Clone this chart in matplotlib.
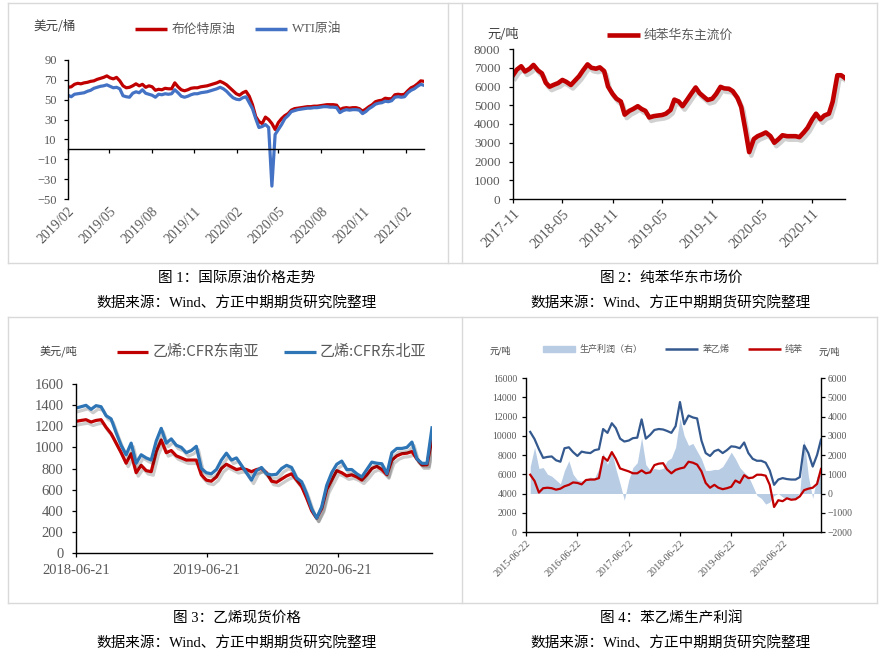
import numpy as np
import pandas as pd
import matplotlib
matplotlib.use('Agg')
import matplotlib.pyplot as plt
from matplotlib.lines import Line2D
from matplotlib.patches import Rectangle
import matplotlib.patheffects as pe

W, H = 884, 656
SERIF = ['Liberation Serif', 'Noto Sans CJK SC']
CJK = ['Noto Sans CJK SC', 'Liberation Serif']
plt.rcParams['font.family'] = SERIF

# ---------------- data ----------------
# Fig 1: crude oil, weekly from 2019-02-01 (USD/bbl)
oil_start = '2019-02-01'
brent = [62.5, 63, 65.5, 66.5, 66, 67, 67.5, 68.5, 69, 70.5, 71.5, 72.5, 74, 72, 71, 72.5, 69, 64, 62, 62.5,
         64, 66, 64, 65.5, 62.5, 64, 63, 59.5, 60.5, 60, 61.5, 61, 61, 67, 63, 60, 59, 60, 61.5, 62,
         62, 63, 63.5, 64, 65, 66, 67, 68.5, 67, 65, 62, 59, 56, 54.5, 57, 58.5, 53.5, 45, 33, 28,
         26, 32.5, 30, 26, 20, 27, 31, 34, 36, 39.5, 41, 41.5, 42, 42.5, 43, 43, 43.5, 43.5, 44, 44.5,
         45, 45, 45, 44.5, 40, 41.5, 42, 41.5, 42, 42, 41, 38.5, 40.5, 43, 45, 48, 49, 49.5, 51.5, 51,
         51, 55, 55.5, 55, 55.5, 59, 62, 63.5, 66, 69, 68.5]
wti = [54.5, 53, 55.5, 56, 56.5, 57, 58.5, 59.5, 61.5, 62.5, 63.5, 64, 65, 63.5, 62, 62.5, 61, 54, 53, 52.5,
       56.5, 58, 57, 60, 56.5, 55.5, 54.5, 52.5, 55.5, 55, 56, 55.5, 56, 60, 57, 53.5, 52.5, 53.5, 55, 56,
       56, 57, 57.5, 58, 59, 60, 61, 62.5, 61, 58.5, 55, 52, 50.5, 50, 52, 53, 47, 41, 31, 22,
       23, 25, 22, -37, 15, 20, 25, 31, 34, 38, 39, 40, 40.5, 41, 41.5, 41.5, 42, 42, 42.5, 43,
       43, 42.5, 42.5, 42, 37, 39, 40, 39.5, 40, 40, 39.5, 36, 38, 41, 43, 45.5, 46.5, 47, 48.5, 48,
       49, 52.5, 53, 52.5, 53, 57, 59.5, 61, 63.5, 65.5, 64.5]
oil_ticks = ['2019-02-01', '2019-05-01', '2019-08-01', '2019-11-01', '2020-02-01',
             '2020-05-01', '2020-08-01', '2020-11-01', '2021-02-01']
oil_tick_labels = ['2019/02', '2019/05', '2019/08', '2019/11', '2020/02',
                   '2020/05', '2020/08', '2020/11', '2021/02']
oil_yticks = [90, 70, 50, 30, 10, -10, -30, -50]

# Fig 2: benzene East China, semi-monthly from 2017-11-01 (CNY/t)
bz_start = '2017-11-01'
benzene_ec = [6600, 6900, 7080, 6800, 6950, 7150, 6850, 6700, 6200, 5990, 6100, 6180, 6350, 6250, 6080, 6300,
              6550, 6850, 7180, 7000, 6950, 7020, 6820, 6000, 5600, 5350, 5200, 4500, 4700, 4800, 4950, 4800,
              4700, 4350, 4420, 4450, 4480, 4550, 4750, 5300, 5200, 4950, 5300, 5600, 5950, 5650, 5450, 5280,
              5350, 5600, 5980, 5900, 5880, 5750, 5400, 4900, 3700, 2500, 3200, 3350, 3450, 3550, 3350, 3000,
              3200, 3400, 3350, 3350, 3350, 3300, 3550, 3800, 4250, 4550, 4250, 4450, 4550, 5200, 6600, 6600, 6450]
bz_ticks = ['2017-11-01', '2018-05-01', '2018-11-01', '2019-05-01', '2019-11-01', '2020-05-01', '2020-11-01']
bz_tick_labels = ['2017-11', '2018-05', '2018-11', '2019-05', '2019-11', '2020-05', '2020-11']

# Fig 3: ethylene CFR, bi-weekly from 2018-06-21 (USD/t)
eth_start = '2018-06-21'
eth_sea = [1246, 1255, 1262, 1240, 1255, 1262, 1190, 1130, 1040, 950, 850, 940, 760, 830, 780, 770,
           960, 1070, 950, 970, 920, 900, 880, 880, 880, 740, 690, 680, 720, 800, 840, 815,
           790, 800, 790, 770, 790, 800, 760, 680, 670, 700, 730, 750, 690, 630, 520, 400,
           330, 420, 600, 690, 780, 760, 730, 740, 720, 690, 740, 800, 820, 790, 740, 880,
           920, 940, 945, 960, 890, 834, 834, 1080]
eth_nea = [1372, 1385, 1398, 1360, 1395, 1385, 1300, 1270, 1140, 1020, 930, 1040, 850, 930, 900, 880,
           1060, 1180, 1040, 1080, 1020, 1000, 950, 970, 1010, 800, 760, 750, 790, 880, 945, 880,
           900, 830, 760, 690, 780, 810, 750, 740, 745, 800, 830, 810, 710, 675, 560, 420,
           330, 437, 640, 760, 840, 870, 790, 790, 750, 720, 790, 860, 850, 845, 750, 950,
           990, 990, 1000, 1050, 890, 849, 849, 1185]
eth_ticks = ['2018-06-21', '2019-06-21', '2020-06-21']
eth_yticks = [0, 200, 400, 600, 800, 1000, 1200, 1400, 1600]

# Fig 4: styrene / benzene / profit, monthly from 2015-06-22 (CNY/t)
sm_start = '2015-06-22'
styrene = [10400, 9650, 8600, 7700, 7800, 7850, 7450, 7300, 8700, 8800, 8300, 7900, 8350, 8250, 8200, 8500,
           8600, 10700, 10300, 11300, 10800, 9700, 9400, 9500, 9750, 9800, 11700, 9700, 10100, 10600, 10700, 10650,
           10500, 10300, 11000, 13500, 11200, 12100, 11900, 11800, 9500, 8200, 7900, 8400, 8550, 8200, 8500, 8900,
           8850, 8700, 9300, 8200, 7600, 7400, 7400, 7200, 6400, 4900, 5450, 5600, 5500, 5450, 5450, 5700,
           9000, 8200, 6800, 8000, 9600]
benzene = [5950, 5300, 4100, 4550, 4600, 4550, 4400, 4500, 4750, 4900, 5150, 5100, 4950, 5400, 5450, 5450,
           5600, 7800, 7400, 8300, 7600, 6600, 6450, 6300, 6100, 6100, 6400, 6100, 6200, 6950, 7100, 7150,
           6500, 6100, 6450, 6600, 6700, 7300, 7200, 7000, 6300, 5100, 4600, 4900, 4600, 4450, 4550, 4700,
           5350, 5100, 5900, 5600, 5650, 5950, 5950, 5850, 4900, 2600, 3300, 3200, 3500, 3350, 3400, 3700,
           4350, 4500, 4600, 5000, 6550]
profit = [1400, 2400, 1300, 1350, 1000, 900, 700, 500, 1200, 1700, 1000, 700, 650, 750, 850, 800,
          1300, 2100, 1500, 2200, 1300, 500, -350, 700, 1350, 1600, 2900, 1500, 1200, 1300, 1250, 1300,
          1700, 1850, 2400, 3900, 3000, 2500, 2600, 2200, 1800, 1200, 1200, 1250, 1250, 1400, 1750, 2150,
          1800, 1350, 1100, 900, 400, -100, -250, -550, -450, -100, 0, -180, -250, -260, -250, 50,
          2800, 900, -250, 900, 1000]
sm_ticks = ['2015-06-22', '2016-06-22', '2017-06-22', '2018-06-22', '2019-06-22', '2020-06-22']

# ---------------- helpers ----------------
fig = plt.figure(figsize=(W / 100, H / 100), dpi=100)
fig.patch.set_facecolor('white')

def fx(x):
    return x / W

def fy(y):
    return 1 - y / H

def add_ax(l, t, r, b):
    return fig.add_axes([fx(l), fy(b), (r - l) / W, (b - t) / H])

def fline(x0, x1, y0, y1, color='#d9d9d9', lw=1.0):
    fig.add_artist(Line2D([fx(x0), fx(x1)], [fy(y0), fy(y1)], color=color, lw=lw,
                          transform=fig.transFigure))

def ftext(x, y, s, size, color='#595959', ha='left', family=CJK, **kw):
    fig.text(fx(x), fy(y), s, fontsize=size, color=color, ha=ha, va='center', family=family, **kw)

def leg_line(x0, x1, y, color, lw):
    fig.add_artist(Line2D([fx(x0), fx(x1)], [fy(y), fy(y)], color=color, lw=lw,
                          solid_capstyle='butt', transform=fig.transFigure))

def style(ax, size):
    for s in ['top', 'right']:
        ax.spines[s].set_visible(False)
    for s in ['left', 'bottom']:
        ax.spines[s].set_linewidth(1.0)
    ax.tick_params(direction='out', length=3, width=0.9, colors='black', labelcolor='#595959',
                   labelsize=size)

# ---------------- frames ----------------
fline(8, 877, 3, 3)
fline(8, 877, 263, 263)
fline(8, 877, 317, 317)
fline(8, 877, 603, 603)
for xx in (8, 462, 877):
    fline(xx, xx, 3, 263)
    fline(xx, xx, 317, 603)
fline(448, 448, 3, 263)

# ---------------- Fig 1 ----------------
d_oil = pd.date_range(oil_start, periods=len(brent), freq='7D')
ax1 = add_ax(68, 60, 424, 199)
ax1.plot(d_oil, brent, color='#C00000', lw=2.3)
ax1.plot(d_oil, wti, color='#4472C4', lw=2.3)
ax1.set_ylim(-50, 90)
ax1.set_yticks(oil_yticks)
ax1.set_xlim(d_oil[0], d_oil[-1])
style(ax1, 9)
ax1.spines['bottom'].set_position(('data', 0))
ax1.set_xticks(pd.to_datetime(oil_ticks))
ax1.set_xticklabels(oil_tick_labels, rotation=45, ha='right', rotation_mode='anchor', fontsize=10)
ax1.tick_params(axis='x', pad=37)
ax1.tick_params(axis='y', pad=5)
ftext(33, 27, '美元/桶', 9, color='#404040')
leg_line(135, 167, 29, '#C00000', 2.5)
ftext(172, 29, '布伦特原油', 9.2)
leg_line(255, 287, 29, '#4472C4', 2.5)
ftext(292, 29, 'WTI原油', 9.2, family=SERIF)

# ---------------- Fig 2 ----------------
d_bz = pd.date_range(bz_start, periods=len(benzene_ec), freq='SMS')
ax2 = add_ax(513, 49, 845, 199)
ax2.plot(d_bz, benzene_ec, color='#C00000', lw=3.3, solid_joinstyle='round',
         path_effects=[pe.SimpleLineShadow(offset=(1.5, -2.5), shadow_color='k', alpha=0.18),
                       pe.Normal()])
ax2.set_ylim(0, 8000)
ax2.set_yticks(range(0, 8001, 1000))
ax2.set_xlim(d_bz[0], d_bz[-1])
style(ax2, 9.5)
ax2.set_xticks(pd.to_datetime(bz_ticks))
ax2.set_xticklabels(bz_tick_labels, rotation=45, ha='right', rotation_mode='anchor', fontsize=10.5)
ax2.tick_params(axis='x', pad=3)
ax2.tick_params(axis='y', pad=6)
ftext(487, 35, '元/吨', 9.5, color='#404040')
leg_line(607, 640, 35, '#C00000', 3.3)
ftext(644, 35, '纯苯华东主流价', 9.2)

# ---------------- Fig 3 ----------------
d_eth = pd.date_range(eth_start, periods=len(eth_sea), freq='14D')
ax3 = add_ax(76, 384, 432, 553)
shadow = [pe.SimpleLineShadow(offset=(1.5, -2.5), shadow_color='k', alpha=0.2), pe.Normal()]
ax3.plot(d_eth, eth_sea, color='#C00000', lw=2.3, path_effects=shadow)
ax3.plot(d_eth, eth_nea, color='#2E75B6', lw=2.3, path_effects=shadow)
ax3.set_ylim(0, 1600)
ax3.set_yticks(eth_yticks)
ax3.set_xlim(d_eth[0], d_eth[-1])
style(ax3, 10.5)
ax3.set_xticks(pd.to_datetime(eth_ticks))
ax3.set_xticklabels(eth_ticks)
ax3.tick_params(axis='x', pad=5)
ax3.tick_params(axis='y', pad=6)
ftext(40, 351, '美元/吨', 8, color='#404040')
leg_line(117, 148, 352, '#C00000', 2.3)
ftext(153, 352, '乙烯:CFR东南亚', 10.8)
leg_line(284, 316, 352, '#2E75B6', 2.3)
ftext(320, 352, '乙烯:CFR东北亚', 10.8)

# ---------------- Fig 4 ----------------
d_sm = pd.date_range(sm_start, periods=len(styrene), freq='MS') + pd.Timedelta(days=21)
ax4 = add_ax(526, 378, 821, 532)
ax4r = ax4.twinx()
ax4r.fill_between(d_sm, 0, profit, color='#B8CCE4', lw=0)
ax4r.set_ylim(-2000, 6000)
ax4r.set_yticks(range(-2000, 6001, 1000))
ax4.set_zorder(ax4r.get_zorder() + 1)
ax4.patch.set_visible(False)
ax4.plot(d_sm, styrene, color='#34598F', lw=1.6)
ax4.plot(d_sm, benzene, color='#C00000', lw=1.6)
ax4.set_ylim(0, 16000)
ax4.set_yticks(range(0, 16001, 2000))
ax4.set_xlim(pd.Timestamp(sm_start), d_sm[-1])
style(ax4, 7)
ax4r.spines['top'].set_visible(False)
ax4r.spines['left'].set_visible(False)
ax4r.spines['bottom'].set_visible(False)
ax4r.spines['right'].set_linewidth(1.0)
ax4r.tick_params(direction='out', length=3, width=0.9, colors='black', labelcolor='#595959',
                 labelsize=7, pad=1.5)
ax4.set_xticks(pd.to_datetime(sm_ticks))
ax4.set_xticklabels(sm_ticks, rotation=45, ha='right', rotation_mode='anchor', fontsize=7.3)
ax4.tick_params(axis='x', pad=1.5)
ax4.tick_params(axis='y', pad=3.5)
ftext(490, 351, '元/吨', 6.5, color='#404040')
ftext(819, 352, '元/吨', 6.5, color='#404040')
fig.add_artist(Rectangle((fx(543), fy(352)), (575 - 543) / W, 6 / H, color='#B8CCE4',
                         transform=fig.transFigure))
ftext(580, 349, '生产利润（右）', 6.5)
leg_line(665, 698, 349, '#34598F', 1.8)
ftext(703, 349, '苯乙烯', 6.5)
leg_line(748, 781, 349, '#C00000', 1.8)
ftext(785, 349, '纯苯', 6.5)

# ---------------- captions ----------------
cap = dict(color='#000000', ha='center', family=SERIF)
ftext(237, 278, '图 1：国际原油价格走势', 10.5, **cap)
ftext(671, 278, '图 2：纯苯华东市场价', 10.5, **cap)
ftext(237, 618, '图 3：乙烯现货价格', 10.5, **cap)
ftext(671, 618, '图 4：苯乙烯生产利润', 10.5, **cap)
src = '数据来源：Wind、方正中期期货研究院整理'
ftext(237, 303, src, 10.5, **cap)
ftext(671, 303, src, 10.5, **cap)
ftext(237, 643, src, 10.5, **cap)
ftext(671, 643, src, 10.5, **cap)

fig.savefig('out.png', dpi=100, facecolor='white')
